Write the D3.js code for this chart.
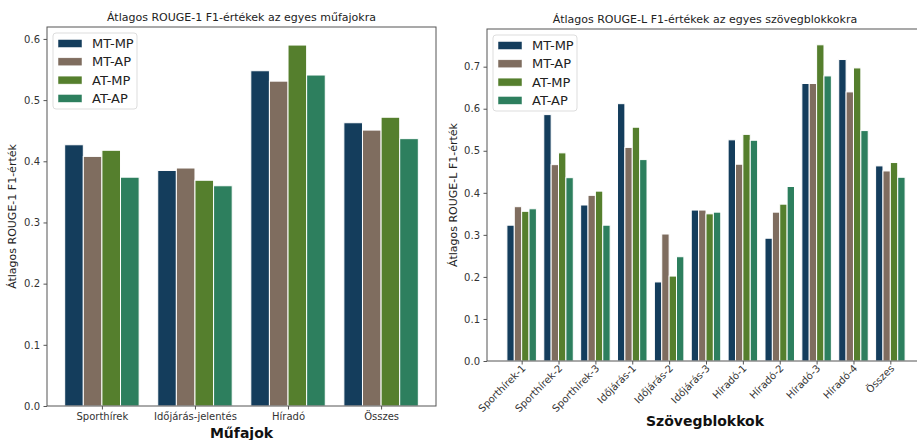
<!DOCTYPE html>
<html><head><meta charset="utf-8">
<script src="https://cdn.jsdelivr.net/npm/d3@7"></script>
<style>
body{margin:0;background:#fff;}
svg{display:block;font-family:"DejaVu Sans",sans-serif;}
</style></head>
<body><svg id="c" width="917" height="440"></svg>
<script>
const seriesNames = ["MT-MP","MT-AP","AT-MP","AT-AP"];
const colors = ["#143d5c","#7f6d5f","#557f2d","#2d7f5e"];

const genreCats = ["Sporthírek","Időjárás-jelentés","Híradó","Összes"];
const genreMTMP = [0.427,0.385,0.548,0.463];
const genreMTAP = [0.408,0.389,0.531,0.451];
const genreATMP = [0.418,0.369,0.590,0.472];
const genreATAP = [0.374,0.360,0.541,0.437];

const blockCats = ["Sporthírek-1","Sporthírek-2","Sporthírek-3","Időjárás-1","Időjárás-2","Időjárás-3","Híradó-1","Híradó-2","Híradó-3","Híradó-4","Összes"];
const blockMTMP = [0.323,0.586,0.371,0.612,0.188,0.359,0.526,0.292,0.660,0.717,0.464];
const blockMTAP = [0.367,0.467,0.394,0.508,0.302,0.359,0.468,0.354,0.660,0.640,0.452];
const blockATMP = [0.356,0.495,0.404,0.556,0.202,0.350,0.539,0.373,0.752,0.697,0.472];
const blockATAP = [0.362,0.436,0.323,0.479,0.248,0.354,0.525,0.415,0.678,0.548,0.437];

const leftTicks = [0,0.1,0.2,0.3,0.4,0.5,0.6];
const rightTicks = [0,0.1,0.2,0.3,0.4,0.5,0.6,0.7];

const svg = d3.select("#c");

function chart(cfg){
  const g = svg.append("g");
  const {x0,x1,y0,y1,cats,series,ticks,title,ylabel,xlabel,rotate,legend} = cfg;
  const n = cats.length;
  const bw = 0.2;
  const xmin = -0.4, xmax = n-1+0.4, pad=(xmax-xmin)*0.05;
  const x = d3.scaleLinear().domain([xmin-pad,xmax+pad]).range([x0,x1]);
  const maxv = d3.max(series.flat());
  const y = d3.scaleLinear().domain([0,maxv*1.05]).range([y1,y0]);
  const clip = "clip"+Math.round(x0);
  svg.append("clipPath").attr("id",clip).append("rect").attr("x",x0).attr("y",y0).attr("width",x1-x0).attr("height",y1-y0);
  series.forEach((vals,si)=>{
    g.append("g").attr("clip-path",`url(#${clip})`).selectAll("rect").data(vals).join("rect")
      .attr("x",(d,i)=>x(i-0.4+si*bw))
      .attr("width",x(bw)-x(0))
      .attr("y",d=>y(d))
      .attr("height",d=>y(0)-y(d))
      .attr("fill",colors[si])
      .attr("stroke","#fff").attr("stroke-width",1);
  });
  // spines
  g.append("rect").attr("x",x0).attr("y",y0).attr("width",x1-x0).attr("height",y1-y0)
    .attr("fill","none").attr("stroke","#555").attr("stroke-width",1);
  // y axis
  const ya = d3.axisLeft(y).tickValues(ticks).tickFormat(d3.format(".1f")).tickSize(3.5).tickPadding(3.5);
  const yg = g.append("g").attr("transform",`translate(${x0},0)`).call(ya);
  yg.select(".domain").remove();
  yg.selectAll("line").attr("stroke","#555");
  yg.selectAll("text").attr("font-size",10).attr("fill","#333").attr("font-family","DejaVu Sans");
  // x axis
  const xa = d3.axisBottom(x).tickValues(d3.range(n)).tickFormat(i=>cats[i]).tickSize(3.5).tickPadding(3.5);
  const xg = g.append("g").attr("transform",`translate(0,${y1})`).call(xa);
  xg.select(".domain").remove();
  xg.selectAll("line").attr("stroke","#555");
  xg.selectAll("text").attr("font-size",10).attr("fill","#333").attr("font-family","DejaVu Sans");
  if(rotate){
    xg.selectAll("text").attr("text-anchor","end").attr("dy",null)
      .attr("transform","translate(4,8) rotate(-45)").attr("y",0).attr("x",0);
  }
  const cx = (x0+x1)/2;
  g.append("text").attr("x",cfg.titleX||cx).attr("y",y0-6).attr("text-anchor","middle")
    .attr("font-size",11).attr("fill","#222").text(title);
  g.append("text").attr("transform",`translate(${cfg.ylabelX},${(y0+y1)/2}) rotate(-90)`)
    .attr("text-anchor","middle").attr("font-size",11).attr("fill","#222").text(ylabel);
  g.append("text").attr("x",cfg.titleX||cx).attr("y",cfg.xlabelY).attr("text-anchor","middle")
    .attr("font-size",14).attr("font-weight","bold").attr("fill","#111").text(xlabel);
  // legend
  const lg = g.append("g");
  lg.append("rect").attr("x",legend.x).attr("y",legend.y).attr("width",84).attr("height",76)
    .attr("rx",3).attr("fill","#fff").attr("fill-opacity",0.85).attr("stroke","#ddd");
  seriesNames.forEach((s,i)=>{
    const yy = legend.y+10+i*18.3;
    lg.append("rect").attr("x",legend.x+5).attr("y",yy-3.5).attr("width",24).attr("height",8)
      .attr("fill",colors[i]).attr("stroke","#fff").attr("stroke-width",0.5);
    lg.append("text").attr("x",legend.x+39).attr("y",yy+5).attr("font-size",13).attr("fill","#222").text(s);
  });
}

chart({x0:47,x1:436,y0:27,y1:406,cats:genreCats,
  series:[genreMTMP,genreMTAP,genreATMP,genreATAP],ticks:leftTicks,
  title:"Átlagos ROUGE-1 F1-értékek az egyes műfajokra",ylabel:"Átlagos ROUGE-1 F1-érték",
  xlabel:"Műfajok",ylabelX:16,xlabelY:438,rotate:false,legend:{x:53,y:33}});

chart({x0:487,x1:925,y0:29,y1:361,cats:blockCats,
  series:[blockMTMP,blockMTAP,blockATMP,blockATAP],ticks:rightTicks,
  title:"Átlagos ROUGE-L F1-értékek az egyes szövegblokkokra",ylabel:"Átlagos ROUGE-L F1-érték",
  xlabel:"Szövegblokkok",ylabelX:457,xlabelY:426,rotate:true,legend:{x:493,y:35},titleX:705});
</script></body></html>
